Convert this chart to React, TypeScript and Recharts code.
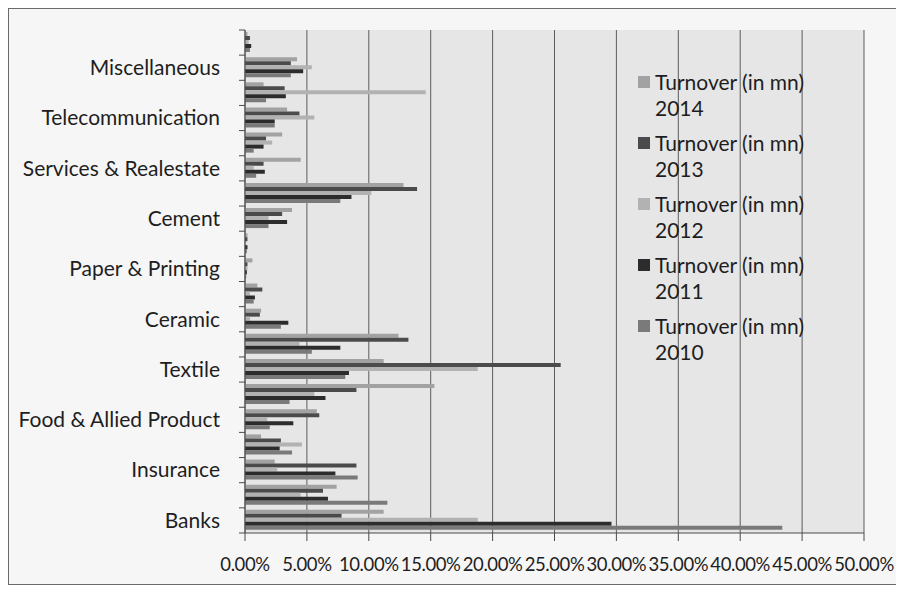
import React from 'react';
import { BarChart, Bar, XAxis, YAxis, CartesianGrid, Legend } from 'recharts';

// Categories in the sheet's order (first one is drawn at the bottom)
const categories = [
  'Banks',
  'Financial Institutions',
  'Insurance',
  'Mutual Funds',
  'Food & Allied Product',
  'Engineering',
  'Textile',
  'Fuel & Power',
  'Ceramic',
  'Tannery',
  'Paper & Printing',
  'Jute',
  'Cement',
  'Pharmaceuticals',
  'Services & Realestate',
  'IT',
  'Telecommunication',
  'Travel & Leisure',
  'Miscellaneous',
  'Corporate Bond',
];

// Share of turnover, in percent
const turnover2014 = [11.2, 7.4, 2.4, 1.3, 5.8, 15.3, 11.2, 12.4, 1.3, 1.0, 0.6, 0.2, 3.8, 12.8, 4.5, 3.0, 3.4, 1.5, 4.2, 0.2];
const turnover2013 = [7.8, 6.3, 9.0, 2.9, 6.0, 9.0, 25.5, 13.2, 1.2, 1.4, 0.2, 0.2, 3.0, 13.9, 1.5, 1.7, 4.4, 3.2, 3.7, 0.4];
const turnover2012 = [18.8, 4.5, 2.6, 4.6, 1.8, 5.6, 18.8, 4.4, 0.4, 0.4, 0.2, 0.1, 1.9, 10.2, 0.7, 2.2, 5.6, 14.6, 5.4, 0.3];
const turnover2011 = [29.6, 6.7, 7.3, 2.8, 3.9, 6.5, 8.4, 7.7, 3.5, 0.8, 0.15, 0.2, 3.4, 8.6, 1.6, 1.5, 2.4, 3.3, 4.7, 0.5];
const turnover2010 = [43.4, 11.5, 9.1, 3.8, 2.0, 3.6, 8.1, 5.4, 2.9, 0.7, 0.1, 0.15, 1.9, 7.7, 0.9, 0.7, 2.4, 1.7, 3.7, 0.4];

const years = ['2014', '2013', '2012', '2011', '2010'];
const seriesLabel = 'Turnover (in mn)';
const xTicks = [0, 5, 10, 15, 20, 25, 30, 35, 40, 45, 50];

const seriesColors: Record<string, string> = {
  '2014': '#a2a2a2',
  '2013': '#4b4b4b',
  '2012': '#b2b2b2',
  '2011': '#2c2c2c',
  '2010': '#7a7a7a',
};

const data = categories.map((category, i) => ({
  category,
  y2014: turnover2014[i],
  y2013: turnover2013[i],
  y2012: turnover2012[i],
  y2011: turnover2011[i],
  y2010: turnover2010[i],
}));

const FONT = 'Lato, Carlito, Calibri, sans-serif';
const FONT_SIZE = 21;
const TEXT = '#1e1e1e';
const AXIS = '#4a4a4a';

function YTick(props: any) {
  const { x, y, payload } = props;
  const index = props.index ?? payload.index;
  const half = payload.offset ?? 12.5;
  return (
    <g>
      <line x1={x - 6} x2={x} y1={y + half} y2={y + half} stroke={AXIS} strokeWidth={1} />
      {index === categories.length - 1 && (
        <line x1={x - 6} x2={x} y1={y - half} y2={y - half} stroke={AXIS} strokeWidth={1} />
      )}
      {index % 2 === 0 && (
        <text
          x={x - 25}
          y={y}
          dy="0.35em"
          textAnchor="end"
          fill={TEXT}
          fontFamily={FONT}
          fontSize={FONT_SIZE}
        >
          {payload.value}
        </text>
      )}
    </g>
  );
}

function LegendContent(props: any) {
  const items = [...(props.payload || [])].sort((a: any, b: any) =>
    String(b.value).localeCompare(String(a.value))
  );
  return (
    <div style={{ fontFamily: FONT, fontSize: FONT_SIZE, color: TEXT, lineHeight: '26px' }}>
      {items.map((entry: any) => {
        const name: string = entry.value;
        const cut = name.lastIndexOf(' ');
        return (
          <div key={name} style={{ position: 'relative', height: 61, paddingLeft: 17 }}>
            <div
              style={{
                position: 'absolute',
                left: 0,
                top: 7,
                width: 12,
                height: 12,
                background: entry.color,
              }}
            />
            <div>{name.slice(0, cut)}</div>
            <div>{name.slice(cut + 1)}</div>
          </div>
        );
      })}
    </div>
  );
}

export default function App() {
  return (
    <div
      style={{
        width: 890,
        height: 575,
        border: '1px solid #6a6a6a',
        background: '#f6f6f6',
        position: 'relative',
      }}
    >
      <BarChart
        width={890}
        height={575}
        data={data}
        layout="vertical"
        margin={{ top: 21, right: 35, left: 5, bottom: 11 }}
        barCategoryGap="8%"
        barGap={0}
      >
        <CartesianGrid horizontal={false} stroke="#5c5c5c" fill="#e6e6e6" />
        <XAxis
          type="number"
          domain={[0, 50]}
          ticks={xTicks}
          interval={0}
          height={40}
          tickFormatter={(v: number) => `${v.toFixed(2)}%`}
          tick={{ fill: TEXT, fontFamily: FONT, fontSize: 18.5, letterSpacing: -0.4 }}
          tickSize={8}
          tickMargin={17}
          axisLine={{ stroke: AXIS }}
          tickLine={{ stroke: AXIS }}
        />
        <YAxis
          type="category"
          dataKey="category"
          reversed
          width={231}
          interval={0}
          tickSize={0}
          tickMargin={0}
          tickLine={false}
          axisLine={{ stroke: AXIS }}
          tick={<YTick />}
        />
        <Legend
          layout="horizontal"
          verticalAlign="middle"
          align="center"
          content={<LegendContent />}
          wrapperStyle={{ position: 'absolute', left: 629, top: 60, width: 210, height: 310 }}
        />
        {years.map((yr) => (
          <Bar
            key={yr}
            dataKey={`y${yr}`}
            name={`${seriesLabel} ${yr}`}
            fill={seriesColors[yr]}
            isAnimationActive={false}
          />
        ))}
      </BarChart>
    </div>
  );
}
